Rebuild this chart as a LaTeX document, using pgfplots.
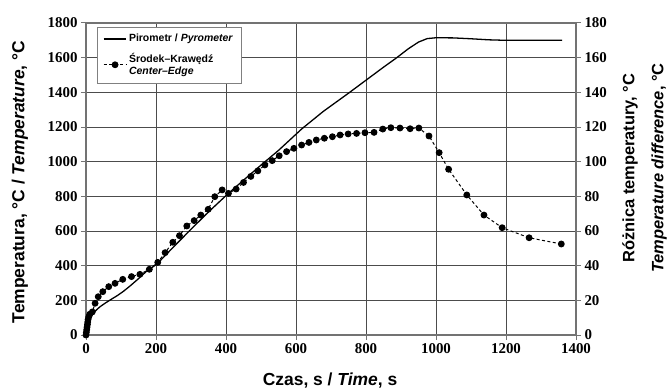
\documentclass[border=0pt]{standalone}
\usepackage{pgfplots}
\pgfplotsset{compat=1.18}
\usepackage{fontspec}
\setmainfont{Liberation Serif}
\newfontfamily\arialf{Liberation Sans}
\definecolor{gridc}{gray}{0.3}
\definecolor{axc}{gray}{0.45}
\pgfplotstableread{
x y
0 0
2 30
4 55
7 80
11 100
16 115
21 126
30 145
40 163
55 184
69 202
90 228
107 252
126 283
150 325
173 368
202 408
250 508
300 610
350 710
402 808
450 893
500 980
550 1065
617 1190
678 1290
750 1395
800 1470
850 1545
888 1600
920 1650
950 1690
975 1710
1000 1715
1050 1714
1100 1709
1150 1703
1200 1700
1300 1700
1360 1700
}\pyro
\pgfplotstableread{
x d
0 0
1 1.5
2 3
3 4.5
4 6
5 7.5
6 9
8 10.5
11 12
18 13.3
26 18.3
35 22.1
48 25
65 27.9
83 29.8
105 32.1
130 33.7
154 35
181 37.9
205 41.9
226 47.5
248 53.5
267 57.3
288 62.9
309 66
328 69.2
349 72.5
368 79.8
389 83.7
407 81.7
429 84.2
450 88
471 91.5
491 94.7
511 98.1
532 100.6
552 103.4
573 105.8
594 107.7
616 109.6
637 111.1
658 112.5
681 113.5
704 114.4
726 115.4
749 116
773 116.3
797 116.7
823 116.9
848 118.8
871 119.6
897 119.4
926 119
951 119.4
980 114.8
1009 105.2
1036 95.6
1088 80.8
1137 69.2
1189 61.9
1266 56.1
1358 52.5
}\diff
\begin{document}
\begin{tikzpicture}
\useasboundingbox (-86bp,-54bp) rectangle (581bp,335bp);
\pgfplotsset{
  common/.style={
    scale only axis, width=490bp, height=312bp,
    xmin=0, xmax=1400,
    tick align=outside, major tick length=5bp,
    tick style={axc, line width=1pt},
    /pgf/number format/assume math mode=true,
    /pgf/number format/1000 sep={},
    tick label style={font=\fontsize{15}{15}\selectfont\bfseries},
    label style={font=\arialf\bfseries\fontsize{17.5}{20}\selectfont},
  }
}
\begin{axis}[common,
  ymin=0, ymax=1800,
  xtick={0,200,...,1400}, ytick={0,200,...,1800},
  xtick pos=bottom, ytick pos=left,
  grid=major, grid style={gridc, line width=0.8pt},
  axis line style={axc, line width=1.2pt},
  xlabel={Czas, s / \textit{Time}, s},
  xlabel style={at={(axis description cs:0.498,-0.145)}, anchor=center},
  ylabel={Temperatura, °C / \textit{Temperature}, °C},
  ylabel style={at={(axis description cs:-0.135,0.49)}, anchor=center},
]
\addplot[black, line width=1.3pt, no marks] table[x=x, y=y] {\pyro};
\end{axis}
\begin{axis}[common,
  ymin=0, ymax=180,
  axis x line=none, axis y line*=right,
  ytick={0,20,...,180},
  axis line style={axc, line width=1.2pt},
  clip mode=individual,
  ylabel={Różnica temperatury, °C\\\textit{Temperature difference}, °C},
  ylabel style={at={(axis description cs:1.14,0.535)}, anchor=center, align=center, font=\arialf\bfseries\fontsize{16.5}{29}\selectfont},
  legend image code/.code={\draw[mark repeat=2,mark phase=2,#1] plot coordinates {(0cm,0cm) (0.4cm,0cm) (0.8cm,0cm)};},
  legend style={at={(0.022,0.987)}, anchor=north west, draw=gray, line width=0.6pt, fill=white,
    font=\arialf\bfseries\fontsize{10.5}{12}\selectfont, cells={anchor=west, align=left},
    row sep=6bp, inner xsep=6bp, inner ysep=5bp},
]
\addlegendimage{black, line width=1.3pt, no marks}
\addlegendentry{Pirometr / \textit{Pyrometer}}
\addplot[black, line width=1pt, dash pattern=on 3pt off 2.5pt, mark=*, mark size=2.9bp, mark options={solid}] table[x=x, y=d] {\diff};
\addlegendentry{Środek–Krawędź\\\textit{Center–Edge}}
\end{axis}
\end{tikzpicture}
\end{document}
